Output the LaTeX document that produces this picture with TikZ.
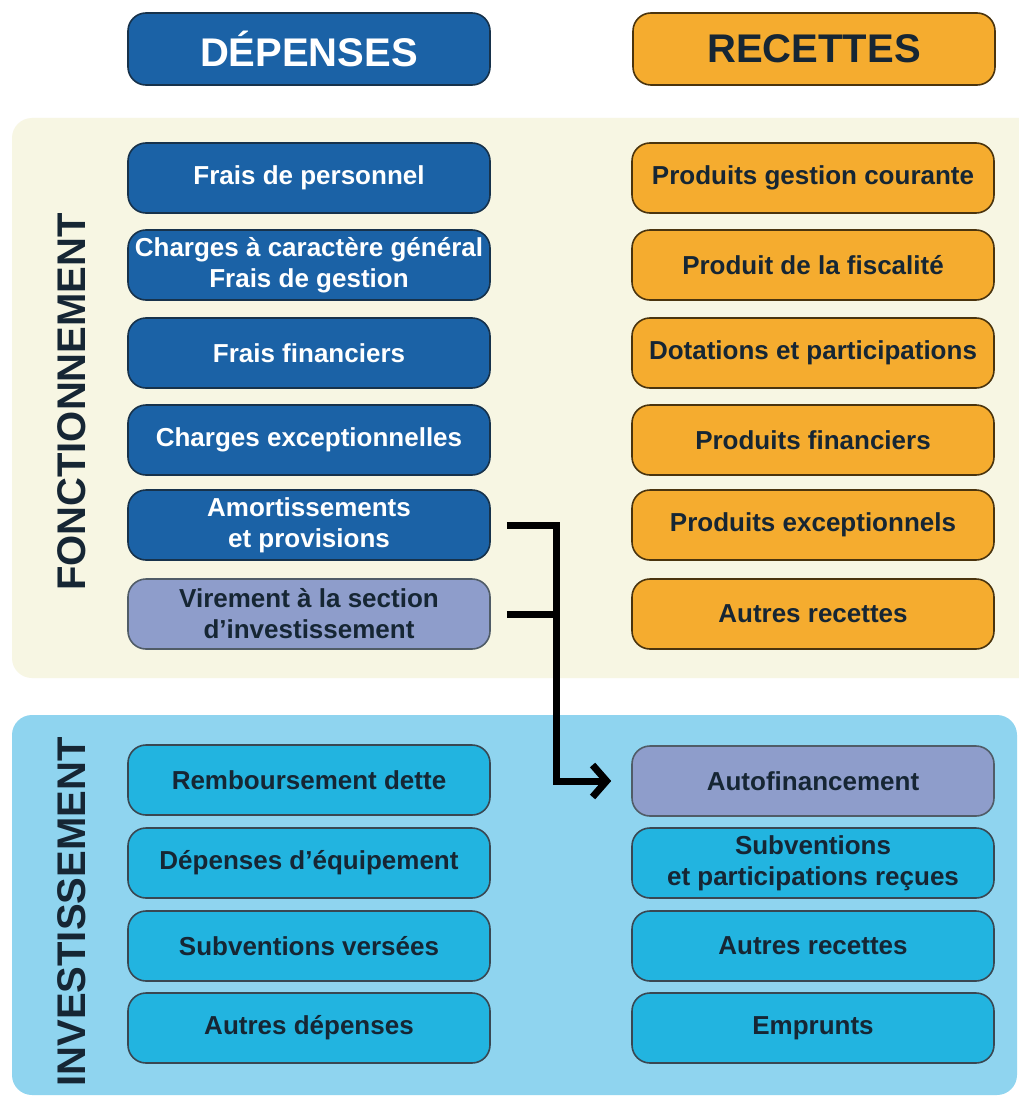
\documentclass[tikz,border=0pt]{standalone}
\usepackage{fontspec}
\setmainfont{Liberation Sans}
\usetikzlibrary{arrows.meta}

\definecolor{depblue}{RGB}{27,98,166}
\definecolor{recorange}{RGB}{245,172,47}
\definecolor{virlav}{RGB}{142,157,203}
\definecolor{invcyan}{RGB}{34,180,224}
\definecolor{fonccream}{RGB}{247,246,227}
\definecolor{invsky}{RGB}{143,212,239}
\definecolor{boxink}{RGB}{22,38,52}

\tikzset{
  box/.style={rounded corners=18pt, minimum width=362pt, minimum height=70pt,
    inner sep=0pt, align=center, line width=1.6pt,
    font=\fontsize{26}{31}\selectfont\bfseries},
  dep/.style={box, fill=depblue, draw=boxink!80!depblue, text=white},
  rec/.style={box, fill=recorange, draw=black!70!recorange, text=boxink},
  vir/.style={box, fill=virlav, draw=boxink!75, text=boxink},
  inv/.style={box, fill=invcyan, draw=boxink!85, text=boxink},
  head/.style={minimum height=72pt, font=\fontsize{40}{40}\selectfont\bfseries},
  section/.style={rotate=90, text=boxink, font=\fontsize{40}{40}\selectfont\bfseries},
  link/.style={line width=7pt, -{Straight Barb[length=14pt,width=32pt,line width=7pt]}}
}

\begin{document}
\begin{tikzpicture}[x=1pt,y=-1pt]
  \useasboundingbox[fill=white] (0,0) rectangle (1019,1097);
  \begin{scope}
    \clip (0,0) rectangle (1019,1097);
    \fill[fonccream, rounded corners=20pt] (12,118) rectangle (1060,678);
    \fill[invsky, rounded corners=20pt] (12,715) rectangle (1017,1095);
  \end{scope}

  % en-tetes
  \node[dep, head] (dep) at (309,49) {DÉPENSES};
  \node[rec, head] (rec) at (814,49) {RECETTES};

  % fonctionnement
  \node[section] (fonc) at (72,402) {FONCTIONNEMENT};
  \node[dep] (pers) at (309,178) {Frais de personnel};
  \node[dep] (charg) at (309,265) {Charges à caractère général\\Frais de gestion};
  \node[dep] (ffin) at (309,353) {Frais financiers};
  \node[dep] (cexc) at (309,440) {Charges exceptionnelles};
  \node[dep] (amort) at (309,525) {Amortissements\\et provisions};
  \node[vir] (vir) at (309,614) {Virement à la section\\d’investissement};

  \node[rec] (pgc) at (813,178) {Produits gestion courante};
  \node[rec] (fisc) at (813,265) {Produit de la fiscalité};
  \node[rec] (dot) at (813,353) {Dotations et participations};
  \node[rec] (pfin) at (813,440) {Produits financiers};
  \node[rec] (pexc) at (813,525) {Produits exceptionnels};
  \node[rec] (arec) at (813,614) {Autres recettes};

  % investissement
  \node[section] (inve) at (72,912) {INVESTISSEMENT};
  \node[inv] (remb) at (309,780) {Remboursement dette};
  \node[inv] (equip) at (309,863) {Dépenses d’équipement};
  \node[inv] (svers) at (309,946) {Subventions versées};
  \node[inv] (adep) at (309,1028) {Autres dépenses};

  \node[vir] (autof) at (813,781) {Autofinancement};
  \node[inv] (srec) at (813,863) {Subventions\\et participations reçues};
  \node[inv] (arec2) at (813,946) {Autres recettes};
  \node[inv] (empr) at (813,1028) {Emprunts};

  \begin{scope}[line join=miter]
    \draw[link] ([xshift=16pt]amort.east) -| ([xshift=-75pt]autof.west)
      -- ([xshift=-20pt]autof.west);
    \draw[line width=7pt] ([xshift=16pt]vir.east) -- ([xshift=-75pt]autof.west |- vir.east);
  \end{scope}
\end{tikzpicture}
\end{document}
